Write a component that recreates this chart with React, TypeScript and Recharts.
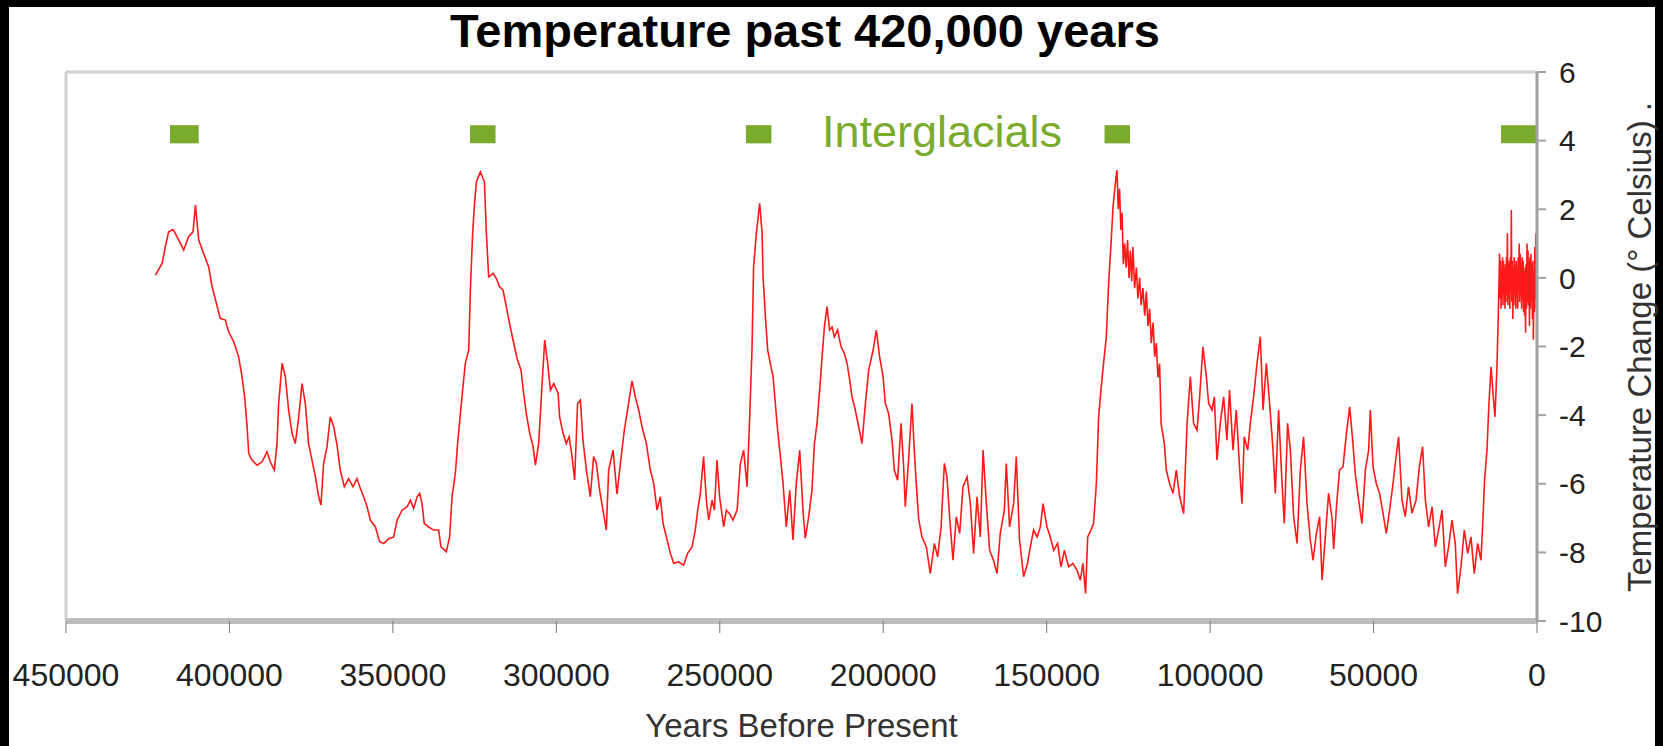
import React from 'react';
import { LineChart, Line, XAxis, YAxis, ReferenceArea, ReferenceLine } from 'recharts';

// years before present / temperature change (°C)
const years = [
  422650, 420600, 419600, 418600, 417250, 415500, 414000, 412500, 411150, 410400,
  409400, 407900, 406350, 405300, 404000, 402800, 401250, 400250, 398700, 397200,
  396150, 395350, 394600, 394100, 393100, 391550, 390000, 388500, 387500, 386250,
  385450, 384950, 383900, 382900, 381900, 380850, 379850, 378800, 377800, 376800,
  375800, 374750, 373700, 372700, 372000, 371200, 370150, 369150, 368100, 367100,
  366100, 364850, 363550, 362200, 361000, 359950, 358950, 357900, 356900, 355350,
  354050, 352800, 351300, 349750, 348700, 347200, 345650, 344650, 343650, 342600,
  341800, 341100, 340400, 339050, 337550, 336000, 335300, 333650, 332650, 331900,
  330900, 330200, 329350, 328550, 327850, 326800, 326300, 325600, 325100, 324450,
  323250, 322000, 321400, 320700, 319350, 318350, 317350, 316300, 315300, 314300,
  313250, 312000, 310800, 310000, 309200, 308150, 307100, 306400, 305400, 304350,
  303550, 302650, 301800, 300800, 299450, 299000, 297950, 296950, 296100, 295200,
  294400, 293500, 292650, 291850, 290800, 289600, 288600, 287750, 286750, 285550,
  284700, 284000, 282650, 281450, 280400, 279200, 277900, 276850, 275850, 274800,
  273800, 272450, 271250, 270200, 269200, 268200, 267350, 266350, 265100, 264100,
  262600, 261050, 259850, 258500, 257500, 256750, 255950, 254950, 254100, 253400,
  252350, 251650, 250850, 250050, 248800, 248000, 247000, 245950, 244700, 243700,
  242700, 241650, 240850, 240150, 239650, 238800, 237800, 237050, 236750, 236050,
  235350, 234550, 233700, 233000, 232300, 231450, 230650, 229650, 228600, 227600,
  226600, 225550, 224550, 223850, 222800, 221800, 221050, 220250, 219450, 218700,
  218000, 217200, 216400, 215650, 214950, 213950, 212900, 211900, 211050, 210250,
  209550, 208550, 207500, 206500, 205450, 204450, 203100, 202100, 201100, 200050,
  199350, 198350, 197300, 196600, 195600, 194550, 193750, 193250, 192250, 191200,
  190500, 189900, 189150, 188150, 186800, 185600, 184350, 183350, 182300, 181300,
  180500, 179700, 178650, 177650, 176600, 175600, 174350, 173350, 172350, 171300,
  170300, 169450, 168450, 167450, 166250, 165200, 164200, 162950, 162350, 161350,
  160100, 159300, 158300, 157050, 155850, 155000, 154000, 152950, 151950, 151100,
  149900, 148900, 147850, 146650, 145600, 144600, 143300, 141950, 140700, 139700,
  138900, 138100, 137450, 136450, 135650, 134800, 134100, 133400, 132600, 131750,
  131050, 130300, 129700, 129000,
  128500, 128100, 127700, 127300, 126950, 126550, 126150, 125700, 125250, 124800,
  124400, 124000, 123600, 123100, 122550, 122100, 121550, 121100, 120550, 120000,
  119500, 119000, 118500, 118000, 117450, 116950, 116450, 115950, 115450, 115000,
  114000, 113400, 112400, 111350, 110350, 109300, 108100, 107050, 106050, 105050,
  104000, 103200, 102200, 101150, 100450, 99400, 98700, 97900, 96900, 95850,
  94850, 94050, 93000, 92000, 90950, 90250, 89550, 88500, 87700, 86700,
  85650, 84650, 83800, 82800, 81800, 80750, 80050, 79050, 78000, 77300,
  76300, 75450, 74450, 73400, 72400, 71400, 70350, 69350, 68500, 67500,
  66500, 65750, 64750, 63750, 62700, 62200, 61300, 60400, 59350, 58300,
  57300, 56300, 55600, 54550, 53550, 52500, 51500, 51000, 50150, 49150,
  48150, 47100, 46100, 45100, 44050, 43350, 42350, 41300, 40300, 39300,
  38250, 37000, 36000, 35000, 34150, 33150, 32100, 31100, 30100, 29050,
  28050, 27050, 26000, 25000, 24300, 23250, 22250, 21200, 20200, 19200,
  18150, 17150, 16500, 16050, 15300, 14700, 14050, 13450, 12850, 12250,
  11850,
  11450, 11300, 11150, 11000, 10850, 10700, 10550, 10400, 10250, 10100,
  9950, 9800, 9650, 9500, 9350, 9200, 9050, 8900, 8750, 8600,
  8450, 8300, 8150, 8000, 7850, 7700, 7550, 7400, 7250, 7100,
  6950, 6800, 6650, 6500, 6350, 6200, 6050, 5900, 5750, 5600,
  5450, 5300, 5150, 5000, 4850, 4700, 4550, 4400, 4250, 4100,
  3950, 3800, 3650, 3500, 3350, 3200, 3050, 2900, 2750, 2600,
  2450, 2300, 2150, 2000, 1850, 1700, 1550, 1400, 1250, 1100,
  950, 800, 650, 500, 350, 200, 100, 0,
];

const temps = [
  0.08, 0.42, 0.91, 1.34, 1.41, 1.1, 0.81, 1.2, 1.34, 2.12,
  1.1, 0.71, 0.32, -0.26, -0.74, -1.18, -1.23, -1.57, -1.86, -2.3,
  -2.88, -3.47, -4.34, -5.12, -5.31, -5.46, -5.36, -5.07, -5.36, -5.6,
  -4.83, -3.66, -2.49, -2.88, -3.85, -4.53, -4.83, -4.05, -3.08, -3.66,
  -4.83, -5.31, -5.8, -6.38, -6.62, -5.41, -4.92, -4.05, -4.34, -4.87,
  -5.6, -6.09, -5.85, -6.09, -5.85, -6.14, -6.38, -6.67, -7.06, -7.26,
  -7.69, -7.74, -7.6, -7.55, -7.06, -6.77, -6.67, -6.48, -6.72, -6.38,
  -6.28, -6.58, -7.16, -7.26, -7.35, -7.35, -7.84, -7.98, -7.55, -6.38,
  -5.7, -4.83, -3.95, -3.17, -2.49, -2.1, -0.36, 1.3, 2.07, 2.8,
  3.09, 2.8, 1.3, 0.03, 0.13, -0.02, -0.26, -0.36, -0.84, -1.33,
  -1.81, -2.35, -2.69, -3.37, -3.95, -4.53, -4.92, -5.46, -4.83, -3.08,
  -1.81, -2.49, -3.27, -3.08, -3.37, -4.05, -4.53, -4.83, -4.63, -5.21,
  -5.89, -3.66, -3.56, -4.73, -5.6, -6.38, -5.21, -5.41, -6.19, -6.87,
  -7.35, -5.6, -5.02, -6.3, -5.41, -4.44, -3.66, -3.0, -3.47, -3.85,
  -4.34, -4.83, -5.6, -5.99, -6.77, -6.38, -7.16, -7.55, -8.03, -8.32,
  -8.28, -8.37, -8.03, -7.84, -7.35, -6.77, -6.28, -5.21, -6.48, -7.06,
  -6.48, -6.77, -5.31, -6.38, -7.26, -6.77, -6.87, -7.06, -6.77, -5.41,
  -5.02, -6.09, -4.05, -2.1, 0.32, 1.3, 2.17, 1.3, 0.03, -1.13,
  -2.1, -2.49, -2.88, -3.66, -4.44, -5.21, -5.99, -7.26, -6.19, -7.64,
  -5.99, -5.02, -6.77, -7.59, -6.96, -6.19, -4.83, -4.24, -3.27, -2.3,
  -1.43, -0.84, -1.52, -1.43, -1.72, -1.52, -2.01, -2.2, -2.49, -2.98,
  -3.47, -3.85, -4.34, -4.83, -3.66, -2.69, -2.11, -1.52, -2.3, -2.88,
  -3.66, -3.95, -4.73, -5.6, -5.9, -4.24, -5.51, -6.67, -5.31, -3.66,
  -5.02, -5.99, -7.04, -7.55, -7.84, -8.62, -7.74, -8.13, -7.26, -5.41,
  -5.8, -6.96, -8.23, -6.96, -7.45, -6.09, -5.8, -6.58, -8.03, -6.38,
  -7.55, -5.02, -6.58, -7.94, -8.23, -8.62, -7.45, -6.77, -5.41, -7.26,
  -6.58, -5.21, -7.64, -8.71, -8.32, -7.84, -7.35, -7.55, -7.26, -6.58,
  -7.26, -7.55, -7.94, -7.74, -8.42, -7.94, -8.42, -8.32, -8.52, -8.81,
  -8.32, -9.2, -7.55, -7.35, -7.16, -5.99, -4.05, -3.27, -2.49, -1.72,
  -0.16, 1.0, 2.07, 2.75,
  3.14, 2.0, 2.6, 1.4, 1.9, 0.4, 1.0, 0.3, 1.1, 0.0,
  0.8, -0.1, 0.9, -0.3, 0.3, -0.6, 0.0, -0.8, -0.3, -1.1,
  -0.4, -1.4, -0.9, -1.9, -1.3, -2.3, -1.9, -2.9, -2.5, -4.24,
  -4.83, -5.6, -5.99, -6.28, -5.6, -6.38, -6.87, -4.24, -2.88, -4.24,
  -4.44, -3.47, -2.01, -2.88, -3.66, -3.85, -3.47, -5.31, -4.24, -3.47,
  -4.73, -3.27, -5.02, -3.85, -5.6, -6.58, -4.63, -5.02, -4.24, -3.47,
  -2.49, -1.72, -3.85, -2.49, -3.66, -5.02, -6.28, -3.85, -5.99, -7.16,
  -4.24, -5.02, -6.96, -7.74, -5.6, -4.63, -6.58, -7.64, -8.23, -7.45,
  -6.96, -8.81, -7.55, -6.28, -7.0, -7.9, -6.6, -5.6, -5.51, -4.53,
  -3.76, -4.83, -5.7, -6.48, -7.16, -5.6, -5.02, -3.85, -5.51, -6.0,
  -6.28, -6.86, -7.45, -6.77, -6.0, -5.41, -4.63, -6.48, -6.96, -6.09,
  -6.86, -6.48, -5.51, -4.92, -6.48, -7.26, -6.67, -7.84, -7.35, -6.77,
  -8.42, -7.84, -7.06, -7.74, -9.2, -8.42, -7.35, -8.03, -7.55, -8.62,
  -7.74, -8.23, -6.96, -5.9, -5.02, -3.66, -2.59, -3.37, -4.05, -2.59,
  -1.13,
  0.71, -0.6, 0.5, -0.9, 0.2, -0.5, 0.6, -0.8, 0.5, -0.4,
  0.3, -0.9, 0.4, -0.7, 0.6, -0.5, 1.3, -0.8, 0.4, -0.6,
  0.5, -0.9, 0.6, -0.4, 1.98, -0.7, 0.5, -1.2, 0.3, -0.8,
  0.6, -0.5, 0.4, -0.9, 0.5, -0.6, 0.3, -0.9, 0.6, -0.4,
  1.0, -0.7, 0.7, -0.5, 0.4, -0.9, 0.6, -0.6, 0.5, -1.0,
  0.2, -1.1, 0.3, -1.6, 0.4, -0.9, 1.0, -0.7, 0.8, -0.8,
  0.5, -1.4, 0.6, -0.9, 0.7, -0.7, 0.4, -1.2, 0.5, -1.8,
  0.2, -1.0, 0.9, -0.6, 1.3, -0.9, 0.3, -0.65,
];

const xTicks = [450000, 400000, 350000, 300000, 250000, 200000, 150000, 100000, 50000, 0];
const yTicks = [-10, -8, -6, -4, -2, 0, 2, 4, 6];

// interglacial markers (years before present)
const interglacialFrom = [418200, 326400, 242000, 132300, 11000];
const interglacialTo = [409400, 318600, 234200, 124500, 0];

const data = years.map((y, i) => ({ year: y, temp: temps[i] }));

const FONT = '"Liberation Sans", Arial, sans-serif';
const GREEN = '#7aab2c';

export default function App() {
  return (
    <div style={{ position: 'absolute', left: 0, top: 0, width: 1663, height: 746, background: '#000', overflow: 'hidden' }}>
      <div style={{ position: 'absolute', left: 9, top: 7, width: 1646, height: 739, background: '#fff' }} />
      <div style={{ position: 'absolute', left: 0, top: 0 }}>
        <LineChart width={1663} height={746} data={data} margin={{ top: 72, right: 0, bottom: 0, left: 66 }}>
          <XAxis
            dataKey="year"
            type="number"
            domain={[0, 450000]}
            reversed
            ticks={xTicks}
            height={125}
            axisLine={{ stroke: '#bdbdbd', strokeWidth: 6 }}
            tickLine={{ stroke: '#777' }}
            tickSize={12}
            tickMargin={30}
            tick={{ fontSize: 32, fill: '#222', fontFamily: FONT }}
            interval={0}
            label={{ value: 'Years Before Present', position: 'insideBottom', offset: 9, fontSize: 33, fill: '#333', fontFamily: FONT }}
          />
          <YAxis
            orientation="right"
            type="number"
            domain={[-10, 6]}
            ticks={yTicks}
            width={126}
            axisLine={{ stroke: '#a0a0a0', strokeWidth: 3 }}
            tickLine={{ stroke: '#a0a0a0', strokeWidth: 2 }}
            tickSize={9}
            tickMargin={13}
            tick={{ fontSize: 30, fill: '#222', fontFamily: FONT, textAnchor: 'start' }}
            interval={0}
          />
          <ReferenceLine y={6} stroke="#d0d0d0" strokeWidth={3} />
          <ReferenceLine x={450000} stroke="#d0d0d0" strokeWidth={3} />
          {interglacialFrom.map((x1, i) => (
            <ReferenceArea
              key={i}
              x1={x1}
              x2={interglacialTo[i]}
              y1={3.92}
              y2={4.45}
              fill={GREEN}
              fillOpacity={1}
              stroke="none"
            />
          ))}
          <Line
            dataKey="temp"
            type="linear"
            stroke="#ff1a1a"
            strokeWidth={1.6}
            dot={false}
            activeDot={false}
            isAnimationActive={false}
          />
        </LineChart>
      </div>
      <svg width={1663} height={746} style={{ position: 'absolute', left: 0, top: 0, pointerEvents: 'none' }}>
        <text x={805} y={47} textAnchor="middle" fontFamily={FONT} fontWeight="bold" fontSize={47} fill="#000">
          Temperature past 420,000 years
        </text>
        <text x={822} y={147} fontFamily={FONT} fontSize={45} fill={GREEN}>
          Interglacials
        </text>
        <text
          transform="translate(1639,347) rotate(-90)"
          textAnchor="middle"
          dominantBaseline="central"
          fontFamily={FONT}
          fontSize={33}
          fill="#333"
        >
          Temperature Change (° Celsius) .
        </text>
      </svg>
    </div>
  );
}
